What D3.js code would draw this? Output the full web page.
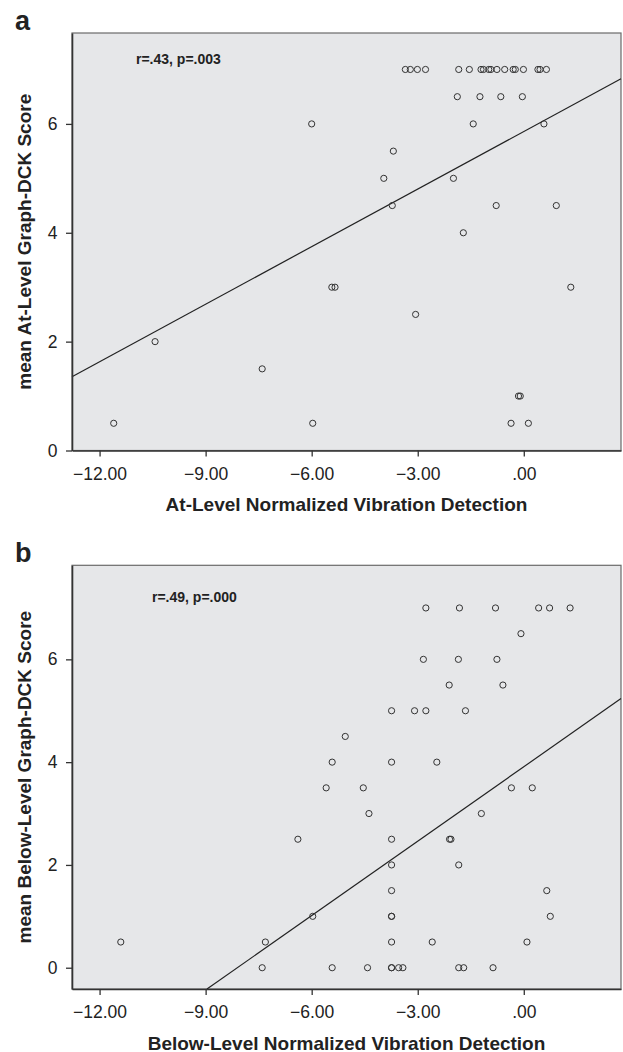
<!DOCTYPE html>
<html>
<head>
<meta charset="utf-8">
<script src="https://cdn.jsdelivr.net/npm/d3@7"></script>
<style>
  body { margin: 0; background: #fff; }
  text { font-family: "Liberation Sans", Arial, sans-serif; fill: #222; }
</style>
</head>
<body>
<svg id="chart" width="623" height="1052"></svg>
<script>
// panel a: at-level
const atX = [-3.35, -3.21, -3.01, -2.78, -1.84, -1.54, -1.21, -1.14, -0.99, -0.93, -0.76, -0.54, -0.30, -0.24, -0.01, 0.40, 0.46, 0.64,
    -1.88, -1.24, -0.65, -0.04,
    -6.00, -1.43, 0.57,
    -3.69,
    -3.96, -1.99,
    -3.72, -0.78, 0.92,
    -1.71,
    -5.43, -5.34, 1.33,
    -3.06,
    -10.43,
    -7.40,
    -0.15, -0.10,
    -11.60, -5.97, -0.36, 0.13];
const atY = [7, 7, 7, 7, 7, 7, 7, 7, 7, 7, 7, 7, 7, 7, 7, 7, 7, 7,
    6.5, 6.5, 6.5, 6.5,
    6, 6, 6,
    5.5,
    5, 5,
    4.5, 4.5, 4.5,
    4,
    3, 3, 3,
    2.5,
    2,
    1.5,
    1, 1,
    0.5, 0.5, 0.5, 0.5];
const atFit = { intercept: 5.86, slope: 0.3525 };

// panel b: below-level
const belowX = [-2.77, -1.82, -0.80, 0.42, 0.73, 1.31,
    -0.08,
    -2.84, -1.85, -0.76,
    -2.11, -0.59,
    -3.74, -3.09, -2.77, -1.65,
    -5.05,
    -5.42, -3.74, -2.46,
    -5.59, -4.54, -0.35, 0.24,
    -4.38, -1.20,
    -6.39, -3.74, -2.10, -2.06,
    -3.74, -1.84,
    -3.74, 0.65,
    -5.97, -3.74, -3.74, 0.75,
    -11.40, -7.31, -3.74, -2.59, 0.09,
    -7.40, -5.42, -4.42, -3.74, -3.74, -3.54, -3.42, -1.84, -1.70, -0.87];
const belowY = [7, 7, 7, 7, 7, 7,
    6.5,
    6, 6, 6,
    5.5, 5.5,
    5, 5, 5, 5,
    4.5,
    4, 4, 4,
    3.5, 3.5, 3.5, 3.5,
    3, 3,
    2.5, 2.5, 2.5, 2.5,
    2, 2,
    1.5, 1.5,
    1, 1, 1, 1,
    0.5, 0.5, 0.5, 0.5, 0.5,
    0, 0, 0, 0, 0, 0, 0, 0, 0, 0];
const belowFit = { intercept: 3.91, slope: 0.4825 };

const xTicks = [-12, -9, -6, -3, 0];
const yTicks = [0, 2, 4, 6];

const svg = d3.select("#chart");

// ".00" style labels like SPSS
function fmtX(v) {
    return d3.format(".2f")(v).replace(/^(-?)0\./, "$1.");
}

function drawPanel(p) {
    const x = d3.scaleLinear().domain(p.xDomain).range([p.left, p.right]);
    const y = d3.scaleLinear().domain(p.yDomain).range([p.bottom, p.top]);
    const g = svg.append("g");

    g.append("rect")
        .attr("x", p.left)
        .attr("y", p.top)
        .attr("width", p.right - p.left)
        .attr("height", p.bottom - p.top)
        .attr("fill", "#e6e7e9")
        .attr("stroke", "#6a6a6a")
        .attr("stroke-width", 1.2);

    // regression line clipped to frame
    const [x0, x1] = p.xDomain;
    let pts = [[x0, p.fit.intercept + p.fit.slope * x0], [x1, p.fit.intercept + p.fit.slope * x1]];
    const yMin = p.yDomain[0];
    if (pts[0][1] < yMin) pts[0] = [(yMin - p.fit.intercept) / p.fit.slope, yMin];
    g.append("line")
        .attr("x1", x(pts[0][0])).attr("y1", y(pts[0][1]))
        .attr("x2", x(pts[1][0])).attr("y2", y(pts[1][1]))
        .attr("stroke", "#222")
        .attr("stroke-width", 1.2);

    g.selectAll("circle")
        .data(d3.zip(p.xs, p.ys))
        .join("circle")
        .attr("cx", d => x(d[0]))
        .attr("cy", d => y(d[1]))
        .attr("r", 3.1)
        .attr("fill", "none")
        .attr("stroke", "#333")
        .attr("stroke-width", 1);

    const xAxis = g.append("g")
        .attr("transform", `translate(0, ${p.bottom})`)
        .call(d3.axisBottom(x).tickValues(xTicks).tickFormat(fmtX).tickSize(6).tickSizeOuter(0).tickPadding(11));
    const yAxis = g.append("g")
        .attr("transform", `translate(${p.left}, 0)`)
        .call(d3.axisLeft(y).tickValues(yTicks).tickSize(6).tickSizeOuter(0).tickPadding(8.5));

    [xAxis, yAxis].forEach(a => {
        a.select(".domain").attr("stroke", "#333").attr("stroke-width", 1.6);
        a.selectAll(".tick line").attr("stroke", "#333").attr("stroke-width", 1.3);
        a.selectAll(".tick text")
            .attr("font-family", "'Liberation Sans', Arial, sans-serif")
            .attr("font-size", 17.5)
            .attr("fill", "#222");
    });

    // labels
    g.append("text")
        .attr("x", (p.left + p.right) / 2)
        .attr("y", p.bottom + 60.5)
        .attr("text-anchor", "middle")
        .attr("font-weight", "bold")
        .attr("font-size", 19)
        .text(p.xTitle);

    g.append("text")
        .attr("transform", `translate(30.5, ${(p.top + p.bottom) / 2}) rotate(-90)`)
        .attr("text-anchor", "middle")
        .attr("font-weight", "bold")
        .attr("font-size", 19)
        .text(p.yTitle);

    g.append("text")
        .attr("x", p.left + p.noteDx)
        .attr("y", p.top + p.noteDy)
        .attr("font-weight", "bold")
        .attr("font-size", 14)
        .text(p.note);

    g.append("text")
        .attr("x", 15)
        .attr("y", p.top - 3)
        .attr("font-weight", "bold")
        .attr("font-size", 27)
        .text(p.letter);
}

drawPanel({
    letter: "a",
    xs: atX, ys: atY, fit: atFit,
    xDomain: [-12.78, 2.75], yDomain: [0, 7.67],
    left: 72, right: 621, top: 33, bottom: 450.5,
    xTitle: "At-Level Normalized Vibration Detection",
    yTitle: "mean At-Level Graph-DCK Score",
    note: "r=.43, p=.003", noteDx: 64, noteDy: 31
});

drawPanel({
    letter: "b",
    xs: belowX, ys: belowY, fit: belowFit,
    xDomain: [-12.78, 2.75], yDomain: [-0.414, 7.83],
    left: 72, right: 621, top: 565.3, bottom: 989,
    xTitle: "Below-Level Normalized Vibration Detection",
    yTitle: "mean Below-Level Graph-DCK Score",
    note: "r=.49, p=.000", noteDx: 80, noteDy: 36.5
});
</script>
</body>
</html>
